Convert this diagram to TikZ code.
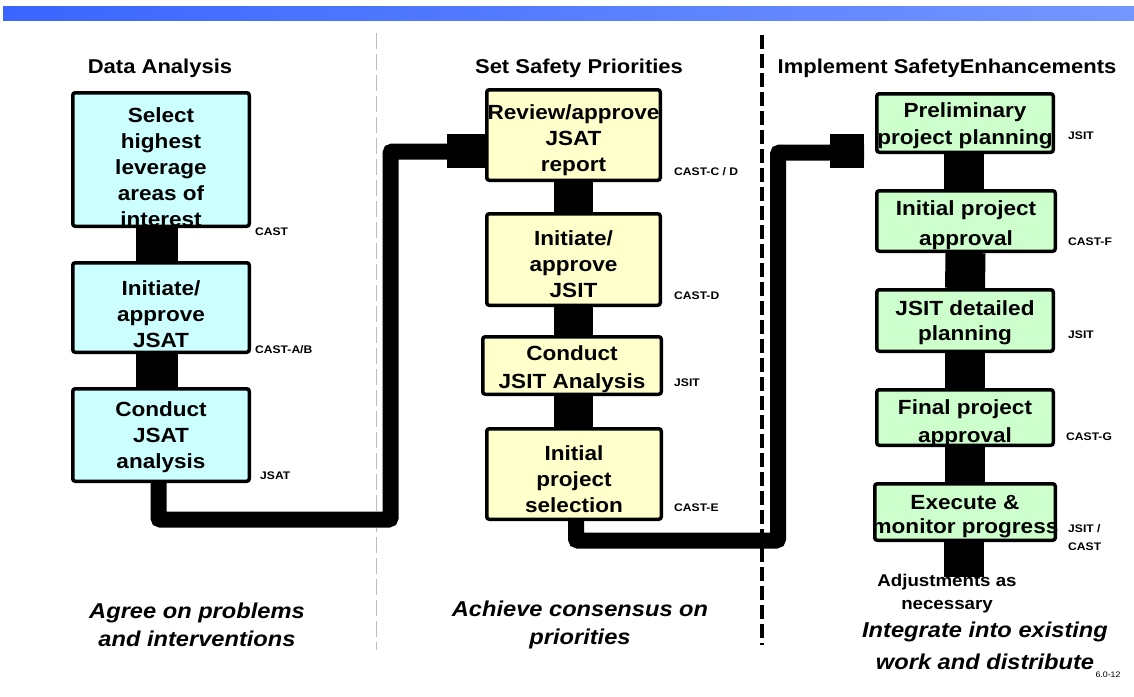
\documentclass[tikz,border=0pt]{standalone}
\usepackage{fontspec}
\setmainfont{Liberation Sans}[FakeStretch=1.1]
\usetikzlibrary{backgrounds}
\definecolor{cyanfill}{HTML}{CCFFFF}
\definecolor{yelfill}{HTML}{FFFFCC}
\definecolor{grnfill}{HTML}{CCFFCC}
\definecolor{barleft}{HTML}{3A66FF}
\definecolor{barright}{HTML}{7496FF}
\definecolor{divgray}{HTML}{BDBDBD}
\begin{document}
\begin{tikzpicture}[x=1pt,y=-1pt,
  box/.style={draw=black, line width=3.5pt, rounded corners=2.5pt, inner sep=0pt},
  cbox/.style={box, fill=cyanfill},
  ybox/.style={box, fill=yelfill},
  gbox/.style={box, fill=grnfill},
  btxt/.style={font=\bfseries\fontsize{20.5}{26}\selectfont, align=center, inner sep=0pt},
  tag/.style={font=\bfseries\fontsize{11}{13}\selectfont, anchor=west, inner sep=0pt, align=left},
  hdr/.style={font=\bfseries\fontsize{20}{24}\selectfont, inner sep=0pt},
  captxt/.style={font=\bfseries\itshape\fontsize{21.5}{28}\selectfont, align=center, inner sep=0pt},
  bar/.style={line width=40pt},
  pipe/.style={line width=16pt, rounded corners=2pt},
  block/.style={line width=34pt}]
\useasboundingbox (0,0) rectangle (1134,696);
% top gradient bar
\shade[left color=barleft, right color=barright] (3,6) rectangle (1134,20);
% headers
\node[hdr] (h1) at (160,68) {Data Analysis};
\node[hdr] (h2) at (579,68) {Set Safety Priorities};
\node[hdr] (h3) at (947,68) {Implement SafetyEnhancements};
% left column boxes
\node[cbox, minimum width=176.5pt, minimum height=133.5pt] (lb1) at (161,159.5) {};
\node[cbox, minimum width=176.5pt, minimum height=89.5pt] (lb2) at (161,307.5) {};
\node[cbox, minimum width=176.5pt, minimum height=92.5pt] (lb3) at (161,435) {};
% middle column boxes
\node[ybox, minimum width=173.5pt, minimum height=90.5pt] (mb1) at (573.5,135) {};
\node[ybox, minimum width=173.5pt, minimum height=91.5pt] (mb2) at (573.5,259.5) {};
\node[ybox, minimum width=178.5pt, minimum height=57.5pt] (mb3) at (572,365.5) {};
\node[ybox, minimum width=174.5pt, minimum height=90.5pt] (mb4) at (574,474) {};
% right column boxes
\node[gbox, minimum width=176.5pt, minimum height=58.5pt] (rb1) at (965,123) {};
\node[gbox, minimum width=178.5pt, minimum height=60.5pt] (rb2) at (966,221) {};
\node[gbox, minimum width=176.5pt, minimum height=61.5pt] (rb3) at (965,320.5) {};
\node[gbox, minimum width=176.5pt, minimum height=55.5pt] (rb4) at (965,417.5) {};
\node[gbox, minimum width=180.5pt, minimum height=56.5pt] (rb5) at (965,512) {};
\coordinate (adj) at (963.5,577);
\coordinate (jl) at (390.5,519.5);
\coordinate (jr) at (778,540.5);
% dividers and connectors (behind boxes)
\begin{pgfonlayer}{background}
\draw[divgray, line width=1pt, dash pattern=on 16pt off 5pt] (376,33) -- (376,650);
\draw[bar, line width=42pt] ([xshift=-4pt]lb1.south) -- ([xshift=-4pt]lb2.north);
\draw[bar, line width=42pt] ([xshift=-4pt]lb2.south) -- ([xshift=-4pt]lb3.north);
\draw[bar, line width=39pt] (mb1.south) -- (mb2.north);
\draw[bar, line width=39pt] (mb2.south) -- ([xshift=1.5pt]mb3.north);
\draw[bar, line width=39pt] ([xshift=1.5pt]mb3.south) -- ([xshift=-0.5pt]mb4.north);
\draw[bar] ([xshift=-1.5pt]rb1.south) -- ([xshift=-2.5pt]rb2.north);
\draw[bar] ([xshift=-0.5pt]rb2.south) -- (rb3.north);
\draw[bar] (rb3.south) -- (rb4.north);
\draw[bar] (rb4.south) -- (rb5.north);
\draw[bar] ([xshift=-1.5pt]rb5.south) -- (adj);
% long connectors
\draw[pipe] ([xshift=-2.5pt]lb3.south) |- (jl) |- ([yshift=-16.5pt]mb1.west);
\draw[block] ([xshift=-38pt,yshift=-16pt]mb1.west) -- ([yshift=-16pt]mb1.west);
\draw[pipe] ([xshift=2pt]mb4.south) |- (jr) |- ([xshift=-11pt,yshift=-29.5pt]rb1.west);
\draw[block] ([xshift=-45pt,yshift=-28pt]rb1.west) -- ([xshift=-11pt,yshift=-28pt]rb1.west);
\draw[black, line width=3.5pt, dash pattern=on 14pt off 5pt] (762,35) -- (762,645);
\end{pgfonlayer}
% box texts
\node[btxt] (lt1) at (161,167) {Select\\highest\\leverage\\areas of\\interest};
\node[btxt] (lt2) at (161,314.5) {Initiate/\\approve\\JSAT};
\node[btxt] (lt3) at (161,437) {Conduct\\JSAT\\analysis};
\node[btxt] (mt1) at (573.5,140) {Review/approve\\JSAT\\report};
\node[btxt] (mt2) at (573.5,264) {Initiate/\\approve\\JSIT};
\node[btxt, font=\bfseries\fontsize{20.5}{28}\selectfont] (mt3) at (572,369) {Conduct\\JSIT Analysis};
\node[btxt] (mt4) at (574,479) {Initial\\project\\selection};
\node[btxt, font=\bfseries\fontsize{20.5}{27}\selectfont] (rt1) at (965,125.5) {Preliminary\\project planning};
\node[btxt, font=\bfseries\fontsize{20.5}{30}\selectfont] (rt2) at (966,225) {Initial project\\approval};
\node[btxt, font=\bfseries\fontsize{20.5}{25}\selectfont] (rt3) at (965,322.5) {JSIT detailed\\planning};
\node[btxt, font=\bfseries\fontsize{20.5}{28}\selectfont] (rt4) at (965,423) {Final project\\approval};
\node[btxt, font=\bfseries\fontsize{20.5}{24}\selectfont] (rt5) at (965,517) {Execute \&\\monitor progress};
% tags
\node[tag] (t1) at (255,232) {CAST};
\node[tag] (t2) at (255,350) {CAST-A/B};
\node[tag] (t3) at (260,476) {JSAT};
\node[tag] (t4) at (674,172) {CAST-C / D};
\node[tag] (t5) at (674,296) {CAST-D};
\node[tag] (t6) at (674,383) {JSIT};
\node[tag] (t7) at (674,508) {CAST-E};
\node[tag] (t8) at (1068,136) {JSIT};
\node[tag] (t9) at (1068,242) {CAST-F};
\node[tag] (t10) at (1068,335) {JSIT};
\node[tag] (t11) at (1066,437) {CAST-G};
\node[tag, font=\bfseries\fontsize{11}{18}\selectfont] (t12) at (1068,538) {JSIT /\\CAST};
% captions
\node[captxt] (c1) at (197,625) {Agree on problems\\and interventions};
\node[captxt] (c2) at (580,625) {Achieve consensus on\\priorities};
\node[captxt, font=\bfseries\itshape\fontsize{21.5}{32}\selectfont] (c3) at (985,646) {Integrate into existing\\work and distribute};
\node[btxt, font=\bfseries\fontsize{17}{23}\selectfont] (adjt) at (947,594) {Adjustments as\\necessary};
\node[inner sep=0pt, font=\fontsize{8}{10}\selectfont] (pg) at (1108,675) {6.0-12};
\end{tikzpicture}
\end{document}
